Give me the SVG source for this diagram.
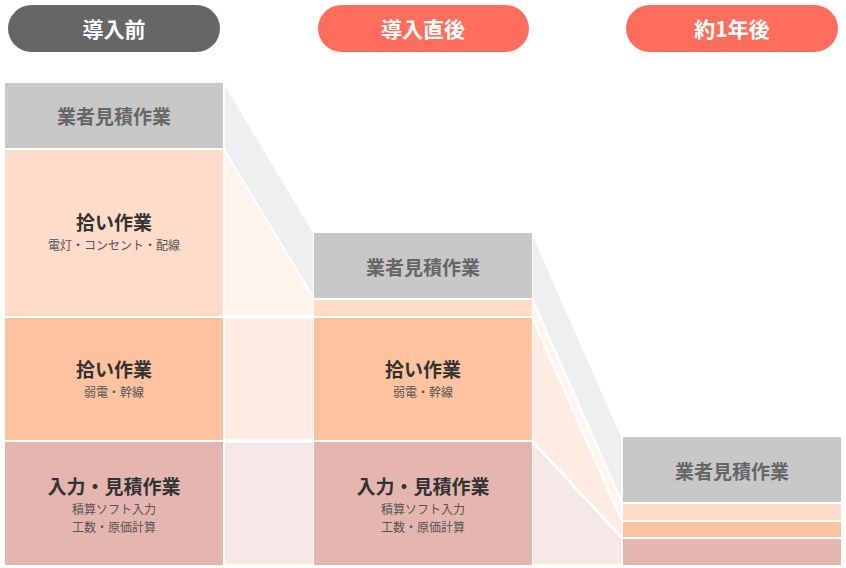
<svg xmlns="http://www.w3.org/2000/svg" width="846" height="568" viewBox="0 0 846 568">
<style>
text{font-family:"Noto Sans CJK JP","Noto Sans",sans-serif;text-anchor:middle;dominant-baseline:central}
.pill{font-size:21px;font-weight:700;fill:#ffffff}
.g{font-size:19px;font-weight:700;fill:#666666}
.t{font-size:19px;font-weight:700;fill:#333333}
.s{font-size:12px;fill:#555555}
.band{stroke:#ffffff;stroke-width:1.5}
</style>
<rect width="846" height="568" fill="#ffffff"/>
<g id="connectors">
<polygon class="band" points="224,83 314,233 314,298 224,149" fill="#eeeff0"/>
<polygon class="band" points="224,150 314,299 314,316 224,316" fill="#fff4ee"/>
<polygon class="band" points="224,318 314,318 314,440 224,440" fill="#feebe1"/>
<polygon class="band" points="224,442 314,442 314,565 224,565" fill="#f6e8e7"/>
<polygon class="band" points="532,233 622,437 622,502 532,298" fill="#eeeff0"/>
<polygon class="band" points="532,300 622,504 622,520 532,316" fill="#fff4ee"/>
<polygon class="band" points="532,318 622,522 622,537 532,440" fill="#feebe1"/>
<polygon class="band" points="532,442 622,539 622,565 532,565" fill="#f6e8e7"/>
</g>
<g id="pill-before"><rect x="8" y="5" width="212" height="47" rx="23.5" fill="#666666"/><text class="pill" x="114" y="28">導入前</text></g>
<g id="pill-after"><rect x="318" y="5" width="211" height="47" rx="23.5" fill="#ff6e5c"/><text class="pill" x="423" y="28">導入直後</text></g>
<g id="pill-year"><rect x="626" y="5" width="212" height="47" rx="23.5" fill="#ff6e5c"/><text class="pill" x="732" y="28">約1年後</text></g>
<g id="c1-vendor"><rect x="5" y="83" width="218" height="65" fill="#c8c8c8"/><text class="g" x="114" y="115">業者見積作業</text></g>
<g id="c1-pick1"><rect x="5" y="150" width="218" height="166" fill="#ffdcc9"/><text class="t" x="114" y="221">拾い作業</text><text class="s" x="114" y="244">電灯・コンセント・配線</text></g>
<g id="c1-pick2"><rect x="5" y="318" width="218" height="122" fill="#ffc29f"/><text class="t" x="114" y="368">拾い作業</text><text class="s" x="114" y="391">弱電・幹線</text></g>
<g id="c1-input"><rect x="5" y="442" width="218" height="123" fill="#e5b6b0"/><text class="t" x="114" y="485">入力・見積作業</text><text class="s" x="114" y="508">積算ソフト入力</text><text class="s" x="114" y="526">工数・原価計算</text></g>
<g id="c2-vendor"><rect x="314" y="233" width="218" height="65" fill="#c8c8c8"/><text class="g" x="423" y="266">業者見積作業</text></g>
<g id="c2-pick1"><rect x="314" y="300" width="218" height="16" fill="#ffdcc9"/></g>
<g id="c2-pick2"><rect x="314" y="318" width="218" height="122" fill="#ffc29f"/><text class="t" x="423" y="368">拾い作業</text><text class="s" x="423" y="391">弱電・幹線</text></g>
<g id="c2-input"><rect x="314" y="442" width="218" height="123" fill="#e5b6b0"/><text class="t" x="423" y="485">入力・見積作業</text><text class="s" x="423" y="508">積算ソフト入力</text><text class="s" x="423" y="526">工数・原価計算</text></g>
<g id="c3-vendor"><rect x="623" y="437" width="218" height="65" fill="#c8c8c8"/><text class="g" x="732" y="470">業者見積作業</text></g>
<g id="c3-pick1"><rect x="623" y="504" width="218" height="16" fill="#ffdcc9"/></g>
<g id="c3-pick2"><rect x="623" y="522" width="218" height="15" fill="#ffc29f"/></g>
<g id="c3-input"><rect x="623" y="539" width="218" height="26" fill="#e5b6b0"/></g>
</svg>
